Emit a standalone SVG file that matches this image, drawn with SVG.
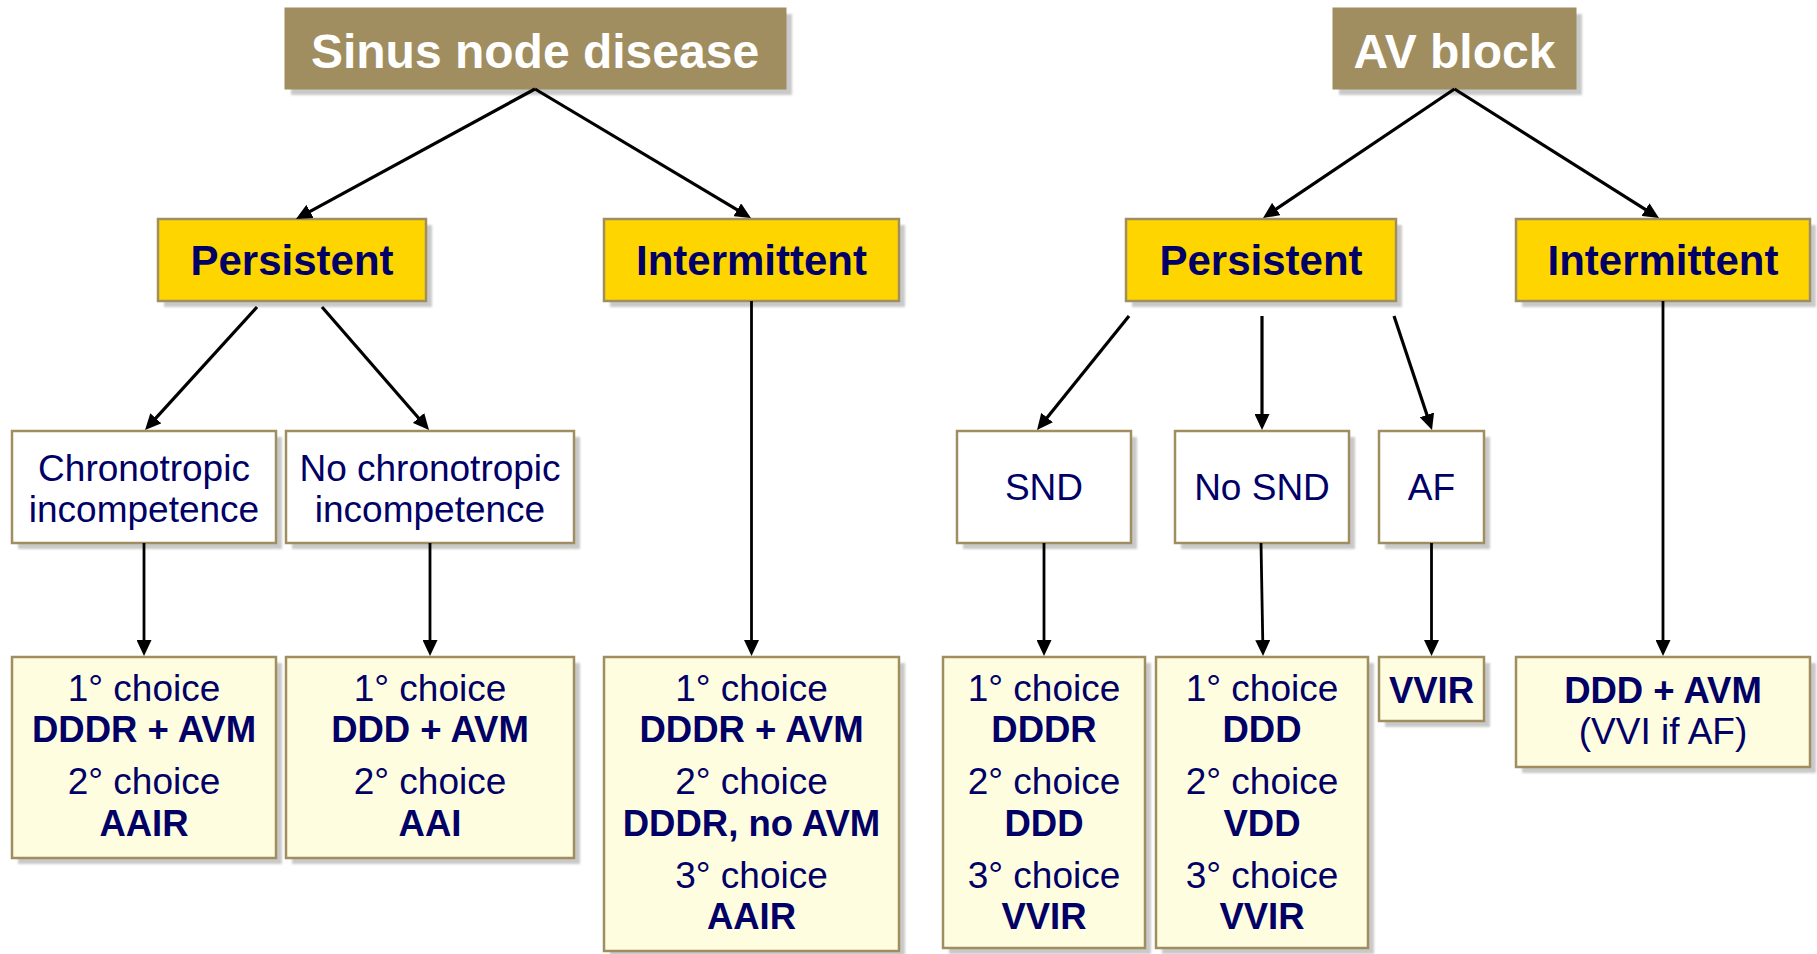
<svg xmlns="http://www.w3.org/2000/svg" width="1817" height="954" viewBox="0 0 1817 954">
<defs>
<style>
.sh{fill:#c9c9c9;filter:url(#blur)}
.head{fill:#a18e60;stroke:#a18e60;stroke-width:1}
.gold{fill:#ffd500;stroke:#a18e60;stroke-width:2.5}
.white{fill:#ffffff;stroke:#a18e60;stroke-width:2.5}
.cream{fill:#fffde0;stroke:#a18e60;stroke-width:2.5}
.ht{font-family:"Liberation Sans",Arial,sans-serif;font-weight:bold;font-size:48px;fill:#ffffff;text-anchor:middle}
.gt{font-family:"Liberation Sans",Arial,sans-serif;font-weight:bold;font-size:42px;fill:#000066;text-anchor:middle}
.r{font-family:"Liberation Sans",Arial,sans-serif;font-size:37px;fill:#000066;text-anchor:middle}
.b{font-family:"Liberation Sans",Arial,sans-serif;font-weight:bold;font-size:36.5px;fill:#000066;text-anchor:middle}
.c1{fill:none;stroke:#000000;stroke-width:3.2;marker-end:url(#ah)}
.c2{fill:none;stroke:#000000;stroke-width:2.8;marker-end:url(#ah)}
</style>
<filter id="blur" x="-5%" y="-5%" width="110%" height="110%"><feGaussianBlur stdDeviation="1"/></filter>
<marker id="ah" viewBox="0 0 16 15" refX="3" refY="7.5" markerWidth="16" markerHeight="15" orient="auto" markerUnits="userSpaceOnUse"><path d="M0,0 L16,7.5 L0,15 z" fill="#000000"/></marker>
</defs>
<rect width="1817" height="954" fill="#ffffff"/>

<g id="sinus-node-disease">
<rect class="sh" x="291" y="14" width="501" height="81"/>
<rect class="head" x="285" y="8" width="501" height="81"/>
<text class="ht" x="535" y="68">Sinus node disease</text>
</g>
<g id="av-block">
<rect class="sh" x="1339" y="14" width="243" height="81"/>
<rect class="head" x="1333" y="8" width="243" height="81"/>
<text class="ht" x="1454.5" y="68">AV block</text>
</g>

<g id="snd-persistent">
<rect class="sh" x="164" y="225" width="268" height="82"/>
<rect class="gold" x="158" y="219" width="268" height="82"/>
<text class="gt" x="292" y="275">Persistent</text>
</g>
<g id="snd-intermittent">
<rect class="sh" x="610" y="225" width="295" height="82"/>
<rect class="gold" x="604" y="219" width="295" height="82"/>
<text class="gt" x="751.5" y="275">Intermittent</text>
</g>
<g id="avb-persistent">
<rect class="sh" x="1132" y="225" width="270" height="82"/>
<rect class="gold" x="1126" y="219" width="270" height="82"/>
<text class="gt" x="1261" y="275">Persistent</text>
</g>
<g id="avb-intermittent">
<rect class="sh" x="1522" y="225" width="294" height="82"/>
<rect class="gold" x="1516" y="219" width="294" height="82"/>
<text class="gt" x="1663" y="275">Intermittent</text>
</g>

<g id="chronotropic-incompetence">
<rect class="sh" x="18" y="437" width="264" height="112"/>
<rect class="white" x="12" y="431" width="264" height="112"/>
<text class="r" x="144" y="481">Chronotropic</text>
<text class="r" x="144" y="522">incompetence</text>
</g>
<g id="no-chronotropic-incompetence">
<rect class="sh" x="292" y="437" width="288" height="112"/>
<rect class="white" x="286" y="431" width="288" height="112"/>
<text class="r" x="430" y="481">No chronotropic</text>
<text class="r" x="430" y="522">incompetence</text>
</g>
<g id="snd">
<rect class="sh" x="963" y="437" width="174" height="112"/>
<rect class="white" x="957" y="431" width="174" height="112"/>
<text class="r" x="1044" y="500">SND</text>
</g>
<g id="no-snd">
<rect class="sh" x="1181" y="437" width="174" height="112"/>
<rect class="white" x="1175" y="431" width="174" height="112"/>
<text class="r" x="1262" y="500">No SND</text>
</g>
<g id="af">
<rect class="sh" x="1385" y="437" width="105" height="112"/>
<rect class="white" x="1379" y="431" width="105" height="112"/>
<text class="r" x="1431.5" y="500">AF</text>
</g>

<g id="choice-chronotropic">
<rect class="sh" x="18" y="663" width="264" height="201"/>
<rect class="cream" x="12" y="657" width="264" height="201"/>
<text class="r" x="144" y="701">1° choice</text>
<text class="b" x="144" y="742">DDDR + AVM</text>
<text class="r" x="144" y="794">2° choice</text>
<text class="b" x="144" y="836">AAIR</text>
</g>
<g id="choice-no-chronotropic">
<rect class="sh" x="292" y="663" width="288" height="201"/>
<rect class="cream" x="286" y="657" width="288" height="201"/>
<text class="r" x="430" y="701">1° choice</text>
<text class="b" x="430" y="742">DDD + AVM</text>
<text class="r" x="430" y="794">2° choice</text>
<text class="b" x="430" y="836">AAI</text>
</g>
<g id="choice-snd-intermittent">
<rect class="sh" x="610" y="663" width="295" height="294"/>
<rect class="cream" x="604" y="657" width="295" height="294"/>
<text class="r" x="751.5" y="701">1° choice</text>
<text class="b" x="751.5" y="742">DDDR + AVM</text>
<text class="r" x="751.5" y="794">2° choice</text>
<text class="b" x="751.5" y="836">DDDR, no AVM</text>
<text class="r" x="751.5" y="888">3° choice</text>
<text class="b" x="751.5" y="929">AAIR</text>
</g>
<g id="choice-snd">
<rect class="sh" x="949" y="663" width="202" height="291"/>
<rect class="cream" x="943" y="657" width="202" height="291"/>
<text class="r" x="1044" y="701">1° choice</text>
<text class="b" x="1044" y="742">DDDR</text>
<text class="r" x="1044" y="794">2° choice</text>
<text class="b" x="1044" y="836">DDD</text>
<text class="r" x="1044" y="888">3° choice</text>
<text class="b" x="1044" y="929">VVIR</text>
</g>
<g id="choice-no-snd">
<rect class="sh" x="1162" y="663" width="212" height="291"/>
<rect class="cream" x="1156" y="657" width="212" height="291"/>
<text class="r" x="1262" y="701">1° choice</text>
<text class="b" x="1262" y="742">DDD</text>
<text class="r" x="1262" y="794">2° choice</text>
<text class="b" x="1262" y="836">VDD</text>
<text class="r" x="1262" y="888">3° choice</text>
<text class="b" x="1262" y="929">VVIR</text>
</g>
<g id="choice-af">
<rect class="sh" x="1385" y="663" width="105" height="64"/>
<rect class="cream" x="1379" y="657" width="105" height="64"/>
<text class="b" x="1431.5" y="703">VVIR</text>
</g>
<g id="choice-avb-intermittent">
<rect class="sh" x="1522" y="663" width="294" height="110"/>
<rect class="cream" x="1516" y="657" width="294" height="110"/>
<text class="b" x="1663" y="703">DDD + AVM</text>
<text class="r" x="1663" y="744">(VVI if AF)</text>
</g>

<g id="connectors">
<path class="c1" d="M535,89 L307.4,212.8"/>
<path class="c1" d="M535,89 L739.8,211.3"/>
<path class="c1" d="M1454.5,89 L1273.8,210.7"/>
<path class="c1" d="M1454.5,89 L1648,211.1"/>
<path class="c1" d="M257,307 L153.8,420.4"/>
<path class="c1" d="M322,307 L420.5,420.2"/>
<path class="c1" d="M1129,316 L1045.2,419.9"/>
<path class="c1" d="M1262,316 L1262,417"/>
<path class="c1" d="M1394,316 L1427.9,417.7"/>
<path class="c2" d="M751.5,301 L751.5,643"/>
<path class="c2" d="M1663,301 L1663,643"/>
<path class="c2" d="M144,543 L144,643"/>
<path class="c2" d="M430,543 L430,643"/>
<path class="c2" d="M1044,543 L1044,643"/>
<path class="c2" d="M1261,543 L1262.8,643"/>
<path class="c2" d="M1431.5,543 L1431.5,643"/>
</g>
</svg>
